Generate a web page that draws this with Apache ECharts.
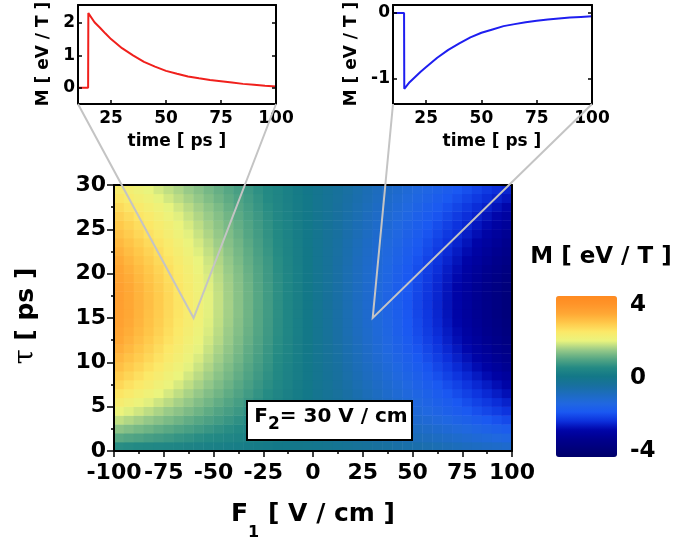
<!DOCTYPE html>
<html><head><meta charset="utf-8">
<script src="https://cdn.jsdelivr.net/npm/echarts@6/dist/echarts.min.js"></script>
<style>html,body{margin:0;padding:0;background:#fff}#c{width:685px;height:546px}</style>
</head><body><div id="c"></div>
<script>
// ---------- data ----------
const f1Centers = [-97.5,-92.5,-87.5,-82.5,-77.5,-72.5,-67.5,-62.5,-57.5,-52.5,-47.5,-42.5,-37.5,-32.5,-27.5,-22.5,-17.5,-12.5,-7.5,-2.5,
  2.5,7.5,12.5,17.5,22.5,27.5,32.5,37.5,42.5,47.5,52.5,57.5,62.5,67.5,72.5,77.5,82.5,87.5,92.5,97.5];
const tauCenters = [0.5,1.5,2.5,3.5,4.5,5.5,6.5,7.5,8.5,9.5,10.5,11.5,12.5,13.5,14.5,15.5,16.5,17.5,18.5,19.5,
  20.5,21.5,22.5,23.5,24.5,25.5,26.5,27.5,28.5,29.5];
// M [eV/T], one row per tau (bottom to top), one column per F1 (left to right)
const mRows = [
[0.64,0.61,0.57,0.54,0.51,0.47,0.44,0.41,0.38,0.34,0.31,0.28,0.25,0.21,0.18,0.15,0.11,0.08,0.05,0.02,-0.03,-0.08,-0.14,-0.19,-0.25,-0.30,-0.36,-0.41,-0.47,-0.53,-0.58,-0.64,-0.69,-0.75,-0.80,-0.86,-0.91,-0.97,-1.02,-1.08],
[1.09,1.03,0.98,0.92,0.87,0.81,0.75,0.70,0.64,0.59,0.53,0.47,0.42,0.36,0.31,0.25,0.20,0.14,0.08,0.03,-0.04,-0.11,-0.18,-0.26,-0.33,-0.40,-0.48,-0.55,-0.62,-0.69,-0.77,-0.84,-0.91,-0.99,-1.06,-1.13,-1.21,-1.28,-1.35,-1.42],
[1.46,1.39,1.31,1.24,1.16,1.09,1.01,0.94,0.86,0.79,0.71,0.64,0.56,0.49,0.41,0.34,0.26,0.19,0.11,0.04,-0.04,-0.13,-0.22,-0.31,-0.40,-0.49,-0.58,-0.67,-0.76,-0.84,-0.93,-1.02,-1.11,-1.20,-1.29,-1.38,-1.47,-1.56,-1.64,-1.73],
[1.80,1.71,1.62,1.52,1.43,1.34,1.25,1.15,1.06,0.97,0.88,0.79,0.69,0.60,0.51,0.42,0.32,0.23,0.14,0.05,-0.05,-0.16,-0.26,-0.37,-0.47,-0.58,-0.68,-0.78,-0.89,-0.99,-1.10,-1.20,-1.31,-1.41,-1.52,-1.62,-1.73,-1.83,-1.94,-2.04],
[2.10,1.99,1.89,1.78,1.67,1.56,1.46,1.35,1.24,1.13,1.02,0.92,0.81,0.70,0.59,0.49,0.38,0.27,0.16,0.05,-0.06,-0.18,-0.30,-0.41,-0.53,-0.65,-0.77,-0.89,-1.01,-1.13,-1.24,-1.36,-1.48,-1.60,-1.72,-1.84,-1.96,-2.07,-2.19,-2.31],
[2.37,2.24,2.12,2.00,1.88,1.76,1.64,1.52,1.39,1.27,1.15,1.03,0.91,0.79,0.67,0.55,0.42,0.30,0.18,0.06,-0.06,-0.19,-0.32,-0.45,-0.58,-0.71,-0.83,-0.96,-1.09,-1.22,-1.35,-1.48,-1.60,-1.73,-1.86,-1.99,-2.12,-2.25,-2.38,-2.50],
[2.59,2.46,2.32,2.19,2.06,1.93,1.79,1.66,1.53,1.39,1.26,1.13,1.00,0.86,0.73,0.60,0.46,0.33,0.20,0.07,-0.07,-0.21,-0.35,-0.48,-0.62,-0.76,-0.90,-1.04,-1.18,-1.31,-1.45,-1.59,-1.73,-1.87,-2.00,-2.14,-2.28,-2.42,-2.56,-2.70],
[2.80,2.65,2.51,2.37,2.22,2.08,1.94,1.79,1.65,1.51,1.36,1.22,1.08,0.93,0.79,0.65,0.50,0.36,0.22,0.07,-0.07,-0.22,-0.37,-0.51,-0.66,-0.81,-0.96,-1.10,-1.25,-1.40,-1.55,-1.69,-1.84,-1.99,-2.13,-2.28,-2.43,-2.57,-2.72,-2.87],
[2.98,2.83,2.68,2.52,2.37,2.22,2.07,1.91,1.76,1.61,1.45,1.30,1.15,0.99,0.84,0.69,0.54,0.38,0.23,0.08,-0.08,-0.24,-0.39,-0.55,-0.71,-0.86,-1.02,-1.18,-1.33,-1.49,-1.65,-1.81,-1.96,-2.12,-2.28,-2.43,-2.59,-2.75,-2.90,-3.06],
[3.15,2.99,2.83,2.67,2.51,2.34,2.18,2.02,1.86,1.70,1.54,1.37,1.21,1.05,0.89,0.73,0.57,0.40,0.24,0.08,-0.08,-0.25,-0.41,-0.58,-0.75,-0.91,-1.08,-1.24,-1.41,-1.58,-1.74,-1.91,-2.07,-2.24,-2.41,-2.57,-2.74,-2.90,-3.07,-3.24],
[3.30,3.13,2.97,2.80,2.63,2.46,2.29,2.12,1.95,1.78,1.61,1.44,1.27,1.10,0.93,0.76,0.59,0.42,0.25,0.08,-0.09,-0.26,-0.43,-0.61,-0.78,-0.96,-1.13,-1.30,-1.48,-1.65,-1.82,-2.00,-2.17,-2.35,-2.52,-2.69,-2.87,-3.04,-3.22,-3.39],
[3.43,3.26,3.08,2.91,2.73,2.55,2.38,2.20,2.03,1.85,1.67,1.50,1.32,1.14,0.97,0.79,0.62,0.44,0.26,0.09,-0.09,-0.27,-0.45,-0.63,-0.81,-0.99,-1.18,-1.36,-1.54,-1.72,-1.90,-2.08,-2.26,-2.44,-2.62,-2.80,-2.98,-3.16,-3.34,-3.52],
[3.55,3.37,3.18,3.00,2.82,2.64,2.46,2.27,2.09,1.91,1.73,1.55,1.36,1.18,1.00,0.82,0.64,0.46,0.27,0.09,-0.09,-0.28,-0.47,-0.65,-0.84,-1.03,-1.21,-1.40,-1.59,-1.77,-1.96,-2.15,-2.33,-2.52,-2.71,-2.89,-3.08,-3.27,-3.45,-3.64],
[3.63,3.45,3.26,3.08,2.89,2.70,2.52,2.33,2.14,1.96,1.77,1.58,1.40,1.21,1.03,0.84,0.65,0.47,0.28,0.09,-0.10,-0.29,-0.48,-0.67,-0.86,-1.05,-1.24,-1.43,-1.63,-1.82,-2.01,-2.20,-2.39,-2.58,-2.77,-2.96,-3.16,-3.35,-3.54,-3.73],
[3.70,3.51,3.32,3.13,2.94,2.75,2.56,2.37,2.18,1.99,1.80,1.61,1.42,1.23,1.04,0.85,0.66,0.47,0.28,0.10,-0.10,-0.29,-0.49,-0.68,-0.88,-1.07,-1.26,-1.46,-1.65,-1.85,-2.04,-2.24,-2.43,-2.63,-2.82,-3.02,-3.21,-3.40,-3.60,-3.79],
[3.74,3.55,3.36,3.16,2.97,2.78,2.59,2.40,2.21,2.01,1.82,1.63,1.44,1.25,1.05,0.86,0.67,0.48,0.29,0.10,-0.10,-0.29,-0.49,-0.69,-0.89,-1.08,-1.28,-1.48,-1.67,-1.87,-2.07,-2.26,-2.46,-2.66,-2.85,-3.05,-3.25,-3.44,-3.64,-3.84],
[3.75,3.56,3.37,3.18,2.98,2.79,2.60,2.41,2.21,2.02,1.83,1.64,1.44,1.25,1.06,0.87,0.67,0.48,0.29,0.10,-0.10,-0.30,-0.49,-0.69,-0.89,-1.09,-1.28,-1.48,-1.68,-1.88,-2.07,-2.27,-2.47,-2.67,-2.86,-3.06,-3.26,-3.46,-3.65,-3.85],
[3.75,3.55,3.36,3.17,2.98,2.79,2.59,2.40,2.21,2.02,1.83,1.63,1.44,1.25,1.06,0.86,0.67,0.48,0.29,0.10,-0.10,-0.30,-0.49,-0.69,-0.89,-1.08,-1.28,-1.48,-1.68,-1.87,-2.07,-2.27,-2.46,-2.66,-2.86,-3.05,-3.25,-3.45,-3.65,-3.84],
[3.72,3.53,3.34,3.14,2.95,2.76,2.57,2.38,2.19,2.00,1.81,1.62,1.43,1.24,1.05,0.86,0.67,0.48,0.29,0.09,-0.10,-0.29,-0.49,-0.68,-0.88,-1.08,-1.27,-1.47,-1.66,-1.86,-2.05,-2.25,-2.44,-2.64,-2.83,-3.03,-3.23,-3.42,-3.62,-3.81],
[3.66,3.47,3.28,3.10,2.91,2.72,2.53,2.35,2.16,1.97,1.78,1.60,1.41,1.22,1.03,0.84,0.66,0.47,0.28,0.09,-0.10,-0.29,-0.48,-0.67,-0.87,-1.06,-1.25,-1.44,-1.64,-1.83,-2.02,-2.21,-2.41,-2.60,-2.79,-2.99,-3.18,-3.37,-3.56,-3.76],
[3.59,3.40,3.22,3.03,2.85,2.67,2.48,2.30,2.11,1.93,1.75,1.56,1.38,1.19,1.01,0.83,0.64,0.46,0.28,0.09,-0.09,-0.28,-0.47,-0.66,-0.85,-1.04,-1.23,-1.41,-1.60,-1.79,-1.98,-2.17,-2.36,-2.55,-2.73,-2.92,-3.11,-3.30,-3.49,-3.68],
[3.49,3.31,3.13,2.95,2.78,2.60,2.42,2.24,2.06,1.88,1.70,1.52,1.34,1.16,0.98,0.81,0.63,0.45,0.27,0.09,-0.09,-0.28,-0.46,-0.64,-0.83,-1.01,-1.19,-1.38,-1.56,-1.74,-1.93,-2.11,-2.30,-2.48,-2.66,-2.85,-3.03,-3.21,-3.40,-3.58],
[3.38,3.20,3.03,2.86,2.69,2.51,2.34,2.17,1.99,1.82,1.65,1.47,1.30,1.13,0.95,0.78,0.61,0.43,0.26,0.09,-0.09,-0.27,-0.44,-0.62,-0.80,-0.98,-1.16,-1.33,-1.51,-1.69,-1.87,-2.04,-2.22,-2.40,-2.58,-2.76,-2.93,-3.11,-3.29,-3.47],
[3.27,3.10,2.93,2.76,2.60,2.43,2.26,2.09,1.93,1.76,1.59,1.42,1.26,1.09,0.92,0.75,0.59,0.42,0.25,0.08,-0.09,-0.26,-0.43,-0.60,-0.77,-0.95,-1.12,-1.29,-1.46,-1.63,-1.80,-1.98,-2.15,-2.32,-2.49,-2.66,-2.83,-3.01,-3.18,-3.35],
[3.13,2.97,2.81,2.65,2.49,2.33,2.17,2.01,1.85,1.69,1.53,1.37,1.21,1.04,0.88,0.72,0.56,0.40,0.24,0.08,-0.08,-0.25,-0.41,-0.58,-0.74,-0.91,-1.07,-1.24,-1.40,-1.57,-1.73,-1.90,-2.06,-2.23,-2.39,-2.56,-2.72,-2.89,-3.05,-3.22],
[3.02,2.87,2.71,2.56,2.40,2.25,2.09,1.94,1.78,1.63,1.47,1.32,1.16,1.01,0.85,0.70,0.54,0.39,0.23,0.08,-0.08,-0.24,-0.40,-0.56,-0.72,-0.87,-1.03,-1.19,-1.35,-1.51,-1.67,-1.83,-1.99,-2.15,-2.31,-2.46,-2.62,-2.78,-2.94,-3.10],
[2.89,2.74,2.59,2.45,2.30,2.15,2.00,1.85,1.70,1.56,1.41,1.26,1.11,0.96,0.82,0.67,0.52,0.37,0.22,0.07,-0.08,-0.23,-0.38,-0.53,-0.68,-0.84,-0.99,-1.14,-1.29,-1.44,-1.60,-1.75,-1.90,-2.05,-2.21,-2.36,-2.51,-2.66,-2.81,-2.97],
[2.74,2.60,2.46,2.32,2.18,2.04,1.90,1.76,1.62,1.48,1.34,1.19,1.05,0.91,0.77,0.63,0.49,0.35,0.21,0.07,-0.07,-0.22,-0.36,-0.50,-0.65,-0.79,-0.94,-1.08,-1.23,-1.37,-1.51,-1.66,-1.80,-1.95,-2.09,-2.24,-2.38,-2.52,-2.67,-2.81],
[2.57,2.44,2.31,2.18,2.04,1.91,1.78,1.65,1.52,1.38,1.25,1.12,0.99,0.86,0.73,0.59,0.46,0.33,0.20,0.07,-0.07,-0.20,-0.34,-0.47,-0.61,-0.74,-0.88,-1.01,-1.15,-1.29,-1.42,-1.56,-1.69,-1.83,-1.96,-2.10,-2.23,-2.37,-2.50,-2.64],
[2.42,2.30,2.17,2.05,1.92,1.80,1.68,1.55,1.43,1.30,1.18,1.06,0.93,0.81,0.68,0.56,0.44,0.31,0.19,0.06,-0.06,-0.19,-0.32,-0.45,-0.57,-0.70,-0.83,-0.96,-1.08,-1.21,-1.34,-1.47,-1.59,-1.72,-1.85,-1.97,-2.10,-2.23,-2.36,-2.48]
];
const f1Ticks = [-100,-75,-50,-25,0,25,50,75,100];
const tauTicks = [0,5,10,15,20,25,30];
const colorbarTicks = [4,0,-4];
const insetTimeL = [10,14.6,14.7,17.5,20,22.5,25,30,35,40,45,50,55,60,65,70,75,80,85,90,95,100];
const insetML    = [0,0,2.3,2.02,1.85,1.67,1.5,1.22,1.0,0.8,0.65,0.52,0.43,0.35,0.29,0.24,0.2,0.16,0.12,0.09,0.06,0.04];
const insetTimeR = [10,15,15.1,17.5,20,22.5,25,30,35,40,45,50,55,60,65,70,75,80,85,90,95,100];
const insetMR    = [0,0,-1.15,-1.05,-0.97,-0.89,-0.82,-0.68,-0.56,-0.46,-0.37,-0.3,-0.25,-0.2,-0.17,-0.14,-0.12,-0.1,-0.085,-0.07,-0.06,-0.05];
const insetTimeTicks = [25,50,75,100];
const insetMTicksL = [0,1,2];
const insetMTicksR = [-1,0];
const probePoints = [[-60,15],[30,15]];

// ---------- styling / layout ----------
const FF = 'DejaVu Sans';
const cmap = ['#00006a','#00007c','#00008e','#0004a8','#0c30dc','#1a58f2','#2068e0','#1d6cc0','#18709e','#137888',
  '#248a84','#58a884','#9acb88','#eaf47e','#fce868','#ffc84a','#ffa835','#ff952a','#ff8a20'];
const VM = {min:-4.3, max:4.5, left:556, top:296, w:61, h:161};
const insetY = [{min:-0.5, max:2.55}, {min:-1.38, max:0.12}];
const insetX = {min:10, max:100};

const heatData = [];
mRows.forEach((row, k) => row.forEach((v, i) => heatData.push([i, k, v])));

const blackLine = {onZero:false, lineStyle:{color:'#000', width:2}};
const lbl = (size, margin, extra) => Object.assign({fontFamily:FF, fontWeight:'bold', fontSize:size, color:'#000', margin:margin}, extra||{});
const mirror = (gridIndex, pos, min, max) => ({gridIndex, type:'value', position:pos, min, max, z:5,
  axisLine:blackLine, axisTick:{show:false}, axisLabel:{show:false}, splitLine:{show:false}});

function insetXAxis(g) {
  return {gridIndex:g, type:'value', position:'bottom', min:insetX.min, max:insetX.max, z:5, axisLine:blackLine,
    axisTick:{inside:true, length:4, customValues:insetTimeTicks, lineStyle:{color:'#000', width:1.5}},
    axisLabel:lbl(17, 6, {customValues:insetTimeTicks}), splitLine:{show:false}};
}
function insetYAxis(g, k, ticks) {
  return {gridIndex:g, type:'value', position:'left', min:insetY[k].min, max:insetY[k].max, z:5, axisLine:blackLine,
    axisTick:{inside:true, length:4, customValues:ticks, lineStyle:{color:'#000', width:1.5}},
    axisLabel:lbl(17, 3, {customValues:ticks}), splitLine:{show:false}};
}
function insetYMirror(g, k, ticks) {
  return {gridIndex:g, type:'value', position:'right', min:insetY[k].min, max:insetY[k].max, z:5, axisLine:blackLine,
    axisTick:{inside:true, length:4, customValues:ticks, lineStyle:{color:'#000', width:1.5}},
    axisLabel:{show:false}, splitLine:{show:false}};
}

const option = {
  animation:false,
  backgroundColor:'#fff',
  grid:[
    {left:114, top:185, width:398, height:266},
    {left:114, top:185, width:398, height:266},
    {left:78, top:5, width:198, height:99},
    {left:393, top:5, width:199, height:99}
  ],
  xAxis:[
    {gridIndex:0, type:'value', position:'bottom', min:-100, max:100, interval:25, z:5, axisLine:blackLine,
     axisTick:{length:6, lineStyle:{color:'#000', width:1.5}},
     minorTick:{show:true, splitNumber:2, length:3, lineStyle:{color:'#000', width:1.5}},
     axisLabel:lbl(22, 11, {customValues:f1Ticks}), splitLine:{show:false}},
    mirror(0, 'top', -100, 100),
    {gridIndex:1, type:'category', data:f1Centers, show:false},
    insetXAxis(2), mirror(2, 'top', insetX.min, insetX.max),
    insetXAxis(3), mirror(3, 'top', insetX.min, insetX.max)
  ],
  yAxis:[
    {gridIndex:0, type:'value', position:'left', min:0, max:30, interval:5, z:5, axisLine:blackLine,
     axisTick:{length:7, lineStyle:{color:'#000', width:1.5}},
     minorTick:{show:true, splitNumber:2, length:3, lineStyle:{color:'#000', width:1.5}},
     axisLabel:lbl(22, 8, {customValues:tauTicks}), splitLine:{show:false}},
    mirror(0, 'right', 0, 30),
    {gridIndex:1, type:'category', data:tauCenters, show:false},
    insetYAxis(2, 0, insetMTicksL), insetYMirror(2, 0, insetMTicksL),
    insetYAxis(3, 1, insetMTicksR), insetYMirror(3, 1, insetMTicksR)
  ],
  visualMap:{type:'continuous', min:VM.min, max:VM.max, seriesIndex:0, calculable:false, orient:'vertical',
    left:VM.left, top:VM.top, itemWidth:VM.w, itemHeight:VM.h, padding:0, hoverLink:false,
    inRange:{color:cmap}},
  series:[
    {type:'heatmap', xAxisIndex:2, yAxisIndex:2, data:heatData, emphasis:{disabled:true}, progressive:0},
    {type:'line', xAxisIndex:3, yAxisIndex:3, data:insetTimeL.map((t,i)=>[t, insetML[i]]), showSymbol:false, symbol:'none',
     lineStyle:{color:'#f0201c', width:2}, itemStyle:{color:'#f0201c'}, clip:true},
    {type:'line', xAxisIndex:5, yAxisIndex:5, data:insetTimeR.map((t,i)=>[t, insetMR[i]]), showSymbol:false, symbol:'none',
     lineStyle:{color:'#1e1ef0', width:2}, itemStyle:{color:'#1e1ef0'}, clip:true}
  ]
};

const chart = echarts.init(document.getElementById('c'), null, {renderer:'canvas'});
chart.setOption(option);

// ---------- annotations ----------
const ctx = document.createElement('canvas').getContext('2d');
const fnt = (size, weight, fam) => (weight||'bold') + ' ' + size + 'px "' + (fam||FF) + '"';
function measure(text, font) { ctx.font = font; return ctx.measureText(text).width; }
function T(x, y, text, font, rot, align) {
  return {type:'text', z:100, x, y, rotation:rot||0, silent:true,
    style:{text, x:0, y:0, align:align||'center', verticalAlign:'middle', font, fill:'#000'}};
}
// horizontal text made of pieces [text, font, dy]; centred at (cx, cy)
function pieces(cx, cy, parts) {
  const ws = parts.map(p => measure(p[0], p[1]));
  let x = cx - ws.reduce((a, b) => a + b, 0) / 2;
  return parts.map((p, i) => { const el = T(x, cy + p[2], p[0], p[1], 0, 'left'); x += ws[i]; return el; });
}

const g = [];
// connector lines from inset corners to probe points
const insetFinders = [{xAxisIndex:3, yAxisIndex:3}, {xAxisIndex:5, yAxisIndex:5}];
probePoints.forEach((p, k) => {
  const a = chart.convertToPixel(insetFinders[k], [insetX.min, insetY[k].min]);
  const b = chart.convertToPixel(insetFinders[k], [insetX.max, insetY[k].min]);
  const c = chart.convertToPixel({xAxisIndex:0, yAxisIndex:0}, p);
  g.push({type:'polyline', z:90, silent:true, shape:{points:[a, c, b]}, style:{stroke:'#c4c4c4', lineWidth:2, fill:null}});
});
// F2 box
g.push({type:'rect', z:100, silent:true, shape:{x:247, y:401, width:165, height:39}, style:{fill:'#fff', stroke:'#000', lineWidth:2}});
g.push(...pieces(331, 417, [['F', fnt(20), 0], ['2', fnt(17), 8], ['= 30 V / cm', fnt(20), 0]]));
// x-axis title
g.push(...pieces(313, 514, [['F', fnt(25), 0], ['1', fnt(16), 19], [' [ V / cm ]', fnt(25), 0]]));
// y-axis title (rotated): τ then [ ps ], reading bottom to top
(function () {
  const fT = fnt(27, 'normal', 'DejaVu Serif'), fM = fnt(25);
  const wT = measure('τ', fT), wM = measure(' [ ps ]', fM);
  const cy = 316, start = cy + (wT + wM) / 2;
  g.push(T(26, start - wT / 2, 'τ', fT, Math.PI / 2));
  g.push(T(26, start - wT - wM / 2, ' [ ps ]', fM, Math.PI / 2));
})();
// colorbar title and labels
g.push(T(601, 257, 'M [ eV / T ]', fnt(23)));
colorbarTicks.forEach(v => {
  const y = VM.top + (VM.max - v) / (VM.max - VM.min) * VM.h;
  g.push(T(630, y, String(v), fnt(23), 0, 'left'));
});
// inset titles
g.push(T(44, 54, 'M [ eV / T ]', fnt(17), Math.PI / 2));
g.push(T(352, 54, 'M [ eV / T ]', fnt(17), Math.PI / 2));
g.push(T(177, 142, 'time [ ps ]', fnt(17)));
g.push(T(492, 142, 'time [ ps ]', fnt(17)));

chart.setOption({graphic:{elements:g}});
</script>
</body></html>
